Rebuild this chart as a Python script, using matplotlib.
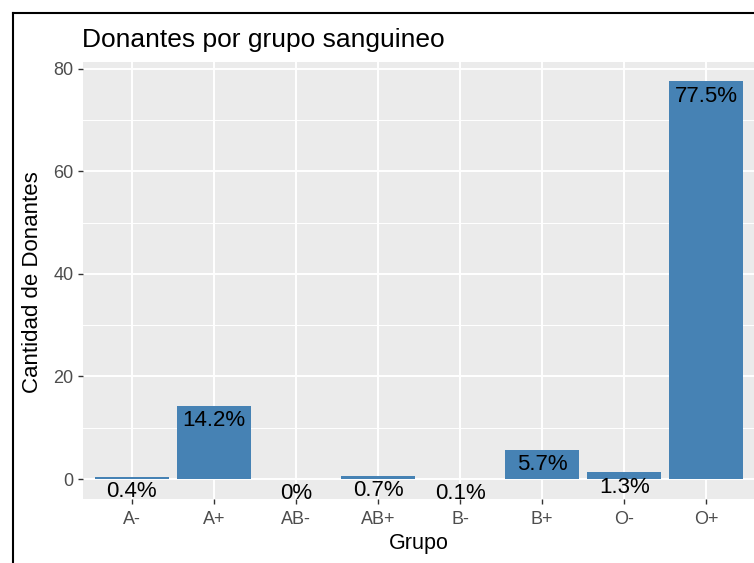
import matplotlib
matplotlib.use("Agg")
import matplotlib.pyplot as plt
from matplotlib.lines import Line2D

# datos
grupos = ['A-', 'A+', 'AB-', 'AB+', 'B-', 'B+', 'O-', 'O+']
porcentaje = [0.4, 14.2, 0.0, 0.7, 0.1, 5.7, 1.3, 77.5]
yticks = [0, 20, 40, 60, 80]
yminor = [10, 30, 50, 70]

plt.rcParams['font.family'] = ['Liberation Sans', 'DejaVu Sans']

W, H = 754, 563
fig = plt.figure(figsize=(W / 100, H / 100), dpi=100)
fig.patch.set_facecolor('white')

# panel in pixel coords
left, right, top, bottom = 82.5, 755.5, 61.5, 499
ax = fig.add_axes([left / W, 1 - bottom / H, (right - left) / W, (bottom - top) / H])
ax.set_facecolor('#EBEBEB')

x = list(range(1, len(grupos) + 1))
ax.bar(x, porcentaje, width=0.9, color='#4682B4', zorder=3)

for xi, v in zip(x, porcentaje):
    ax.annotate(f'{v:g}%', (xi, v), xytext=(0, -3), textcoords='offset points',
                ha='center', va='top', fontsize=16, color='black', zorder=4)

ax.set_xlim(0.4, 8.6)
ax.set_ylim(-3.875, 81.375)
ax.set_xticks(x)
ax.set_xticklabels(grupos)
ax.set_yticks(yticks)
ax.set_yticks(yminor, minor=True)

ax.grid(True, which='major', color='white', linewidth=1.4, zorder=0)
ax.grid(True, which='minor', axis='y', color='white', linewidth=0.7, zorder=0)
ax.set_axisbelow(True)
for s in ax.spines.values():
    s.set_visible(False)

ax.tick_params(axis='both', which='major', length=3.6, width=1.0, color='#333333',
               labelsize=13, labelcolor='#4D4D4D', pad=3)
ax.tick_params(axis='x', which='major', pad=5)
ax.tick_params(axis='y', which='minor', length=0)

# titulos
fig.text(82 / W, 1 - 47 / H, 'Donantes por grupo sanguineo', fontsize=19,
         ha='left', va='baseline')
fig.text(419 / W, 1 - 549 / H, 'Grupo', fontsize=15.5, ha='center', va='baseline')
fig.text(43 / W, 1 - 282 / H, 'Cantidad de Donantes', fontsize=16, rotation=90,
         ha='right', va='center')

# marco
fig.add_artist(Line2D([12.5 / W, 12.5 / W], [0, 1 - 12.5 / H], color='black',
                      linewidth=1.5, transform=fig.transFigure))
fig.add_artist(Line2D([12.5 / W, 1], [1 - 12.5 / H, 1 - 12.5 / H], color='black',
                      linewidth=1.5, transform=fig.transFigure))

fig.savefig('out.png', dpi=100)
